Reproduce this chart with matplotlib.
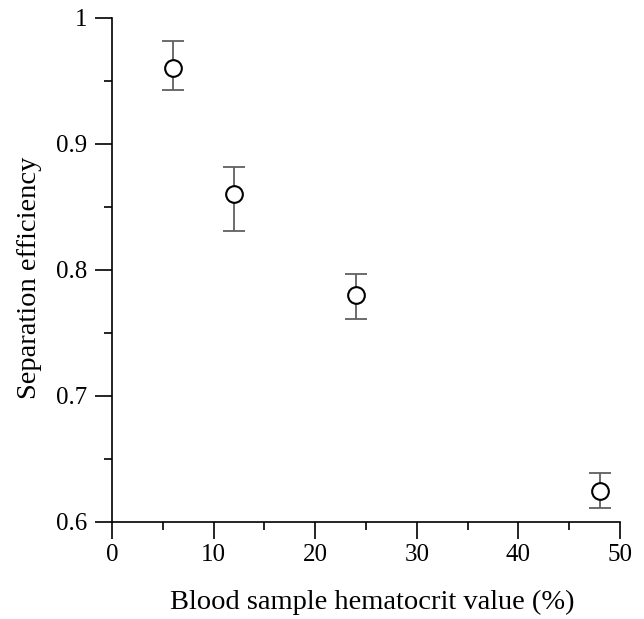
import matplotlib
matplotlib.use("Agg")
import matplotlib.pyplot as plt
from matplotlib.ticker import MultipleLocator

hematocrit = [6, 12, 24, 48]
efficiency = [0.960, 0.860, 0.780, 0.625]
err_upper = [0.022, 0.022, 0.017, 0.014]
err_lower = [0.017, 0.029, 0.019, 0.014]

plt.rcParams['font.family'] = ['Liberation Serif', 'DejaVu Serif']

fig = plt.figure(figsize=(6.44, 6.19), dpi=100)
ax = fig.add_axes([112/644, 1-522/619, (620-112)/644, (522-18)/619])

ax.errorbar(hematocrit, efficiency, yerr=[err_lower, err_upper], fmt='none',
            ecolor='#606060', elinewidth=1.3, capsize=8, capthick=1.3, zorder=2)
ax.plot(hematocrit, efficiency, 'o', mfc='white', mec='black', ms=12, mew=1.5, zorder=3)

ax.set_xlim(0, 50)
ax.set_ylim(0.6, 1.0)
ax.xaxis.set_major_locator(MultipleLocator(10))
ax.xaxis.set_minor_locator(MultipleLocator(5))
ax.yaxis.set_minor_locator(MultipleLocator(0.05))
ax.set_yticks([0.6, 0.7, 0.8, 0.9, 1.0])
ax.set_yticklabels(['0.6', '0.7', '0.8', '0.9', '1'])

for s in ['top', 'right']:
    ax.spines[s].set_visible(False)
for s in ['left', 'bottom']:
    ax.spines[s].set_linewidth(1.2)

ax.tick_params(which='major', direction='out', length=12, width=1.2, labelsize=18)
ax.tick_params(axis='x', which='major', pad=4)
ax.tick_params(axis='y', which='major', pad=6)
ax.tick_params(which='minor', direction='out', length=6, width=1.2)

ax.set_xlabel('Blood sample hematocrit value (%)', fontsize=20.5, labelpad=17, x=0.512)
ax.set_ylabel('Separation efficiency', fontsize=20.5, labelpad=10, y=0.484)

fig.savefig('out.png', dpi=100)
